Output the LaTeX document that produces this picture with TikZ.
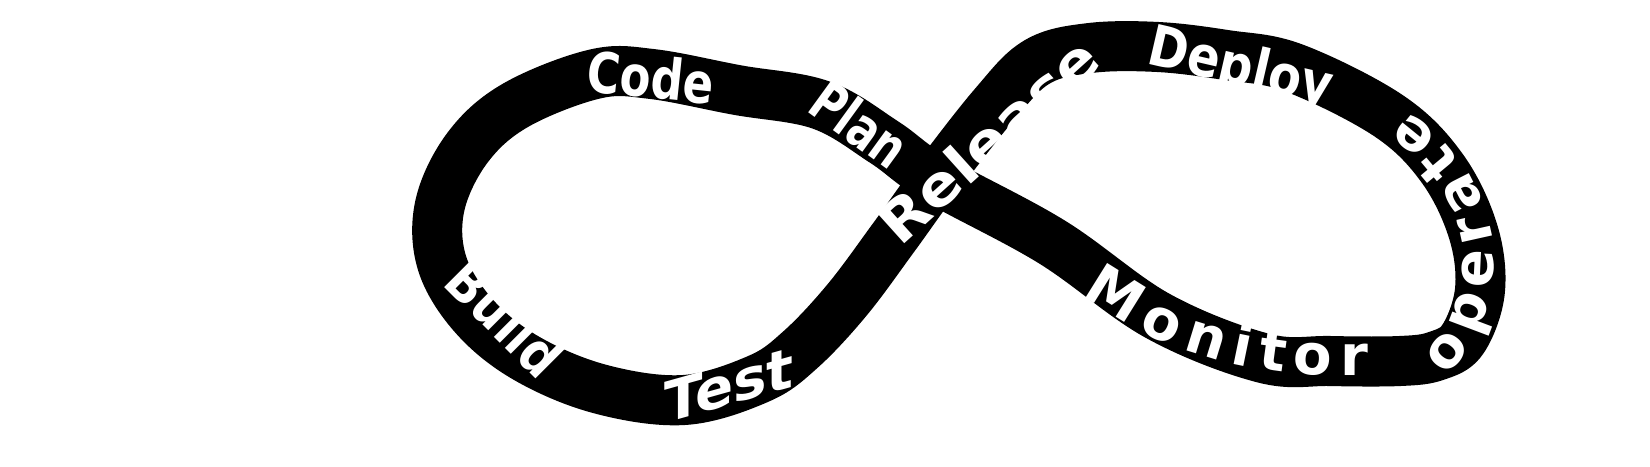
\documentclass[tikz,border=0pt]{standalone}
\usepackage{fontspec}
\usetikzlibrary{decorations.text}
\newfontfamily\handfont{DejaVu Sans}
\newcommand\stagefont{\handfont\bfseries\fontsize{16}{18}\selectfont}

\begin{document}
\begin{tikzpicture}[x=0.01cm, y=-0.01cm,
  band/.style={line width=0.5cm, line join=round},
  stage/.style={text=white, font=\stagefont, inner sep=0pt},
  curved/.style={decorate, decoration={text along path, text align=fit to path,
    raise=-4.5pt, text={|\stagefont\color{white}|#1}}}]
  \useasboundingbox (0,0) rectangle (1650,466);
  % The loop first
  \draw[band] plot[smooth cycle, tension=0.6] coordinates {
    (936,179) (994,105) (1037,62) (1090,48) (1158,47) (1226,55) (1294,68)
    (1389,116) (1442,168) (1473,231) (1480,290) (1463,339) (1436,356)
    (1400,361) (1330,361) (1263,358) (1158,316) (1052,242) (936,179)
    (884,142) (821,105) (737,90) (652,74) (595,74) (516,105) (468,147)
    (440,205) (442,263) (474,316) (526,358) (600,389) (684,400) (758,379)
    (800,350) (847,300) (894,237)};
  % Stage labels
  \node[stage, rotate=-6, xscale=0.8] (code) at (651,77) {Code};
  \node[stage, rotate=-45, xscale=0.85] (build) at (505,318) {Build};
  \node[stage, yslant=0.28] (test) at (729,385) {Test};
  \node[stage, rotate=-36, xscale=0.75] (plan) at (860,124) {Plan};
  \node[stage, rotate=42, xscale=1.1] (release) at (988,140) {Release};
  \node[stage, rotate=-13, xscale=0.85] (deploy) at (1240,70) {Deploy};
  \path[curved=operate] (1434,366) .. controls (1500,300) and (1495,190) .. (1398,124);
  \path[curved=Monitor] (1090,282) .. controls (1160,330) and (1230,362) .. (1368,360);
\end{tikzpicture}
\end{document}
